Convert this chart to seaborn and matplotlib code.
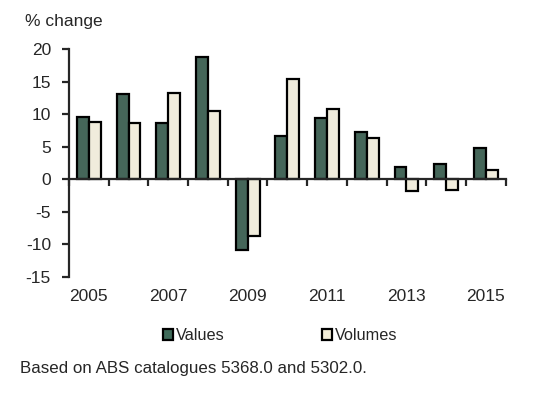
import numpy as np
import pandas as pd
import matplotlib
matplotlib.use("Agg")
import matplotlib.pyplot as plt
from matplotlib.patches import Patch
import seaborn as sns

# data
years = [2005, 2006, 2007, 2008, 2009, 2010, 2011, 2012, 2013, 2014, 2015]
values = [9.5, 13.1, 8.7, 18.8, -10.9, 6.7, 9.4, 7.3, 1.8, 2.3, 4.8]
volumes = [8.8, 8.6, 13.2, 10.5, -8.8, 15.4, 10.8, 6.3, -1.9, -1.6, 1.4]
series = ["Values", "Volumes"]
colors = ["#3f6b5a", "#f3eed9"]
year_labels = [2005, 2007, 2009, 2011, 2013, 2015]

sns.set_style("ticks")
plt.rcParams['font.family'] = ['Liberation Sans', 'DejaVu Sans']
plt.rcParams['axes.unicode_minus'] = False

df = pd.DataFrame({
    "year": [str(y) for y in years] * 2,
    "change": values + volumes,
    "series": [series[0]] * len(years) + [series[1]] * len(years),
})

fig = plt.figure(figsize=(5.44, 3.95), dpi=100)
ax = fig.add_axes([0.1268, 0.2995, 0.8028, 0.5765])

sns.barplot(data=df, x="year", y="change", hue="series", palette=colors,
            edgecolor="black", linewidth=1.6, width=0.6, legend=False, ax=ax)

ax.set_ylim(-15, 20)
ax.set_xlim(-0.5, len(years) - 0.5)
ax.set_yticks(np.arange(-15, 21, 5))
ax.set_xticks(np.arange(-0.5, len(years), 1))
ax.set_xticklabels([])
ax.set_xlabel("")
ax.set_ylabel("")

ax.spines['top'].set_visible(False)
ax.spines['right'].set_visible(False)
ax.spines['bottom'].set_position(('data', 0))
for s in ['left', 'bottom']:
    ax.spines[s].set_linewidth(1.6)
ax.tick_params(axis='y', direction='out', length=5, width=1.6, labelsize=12.5, pad=8)
ax.tick_params(axis='x', direction='out', length=5, width=1.6)

# year labels sit below the plot, not at the zero line
for y in year_labels:
    ax.text(years.index(y), -0.088, str(y), transform=ax.get_xaxis_transform(),
            ha='center', va='center', fontsize=12.5)

fig.text(0.046, 0.945, "% change", ha='left', va='center', fontsize=12.5)

handles = [Patch(facecolor=c, edgecolor='black', linewidth=1.6) for c in colors]
fig.legend(handles, series, loc='center', bbox_to_anchor=(280 / 544, 1 - 336 / 395),
           ncol=2, frameon=False, fontsize=11.7, handlelength=0.65, handleheight=0.65,
           handletextpad=0.15, columnspacing=6.0, borderaxespad=0)

fig.text(20 / 544, 1 - 368 / 395, "Based on ABS catalogues 5368.0 and 5302.0.",
         ha='left', va='center', fontsize=12.2)

plt.savefig('out.png', dpi=100)
